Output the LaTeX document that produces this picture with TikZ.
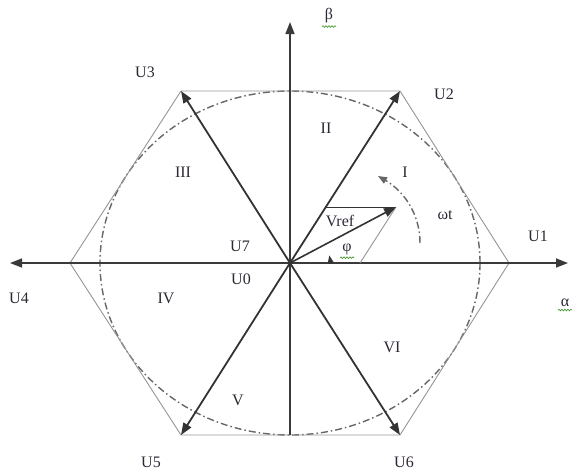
\documentclass[tikz,border=0pt]{standalone}
\usepackage{fontspec}
\setmainfont{Liberation Serif}
\usetikzlibrary{arrows.meta,decorations.pathmorphing}
\definecolor{axisgray}{HTML}{3A3A3A}
\definecolor{vecgray}{HTML}{333333}
\definecolor{hexgray}{HTML}{959595}
\definecolor{circgray}{HTML}{666666}
\definecolor{txt}{HTML}{2E2834}
\definecolor{sqgreen}{HTML}{4E9A3A}
\begin{document}
\begin{tikzpicture}[x=1pt,y=-1pt,
  axisline/.style={draw=axisgray,line width=1.6pt,-{Triangle[length=12pt,width=9pt]}},
  vec/.style={draw=vecgray,line width=1.8pt,-{Triangle[length=12pt,width=9pt]}},
  hexedge/.style={draw=hexgray,line width=0.9pt},
  thinline/.style={draw=vecgray,line width=0.9pt},
  circ/.style={draw=circgray,line width=1.4pt,dash pattern=on 7pt off 3pt on 1.5pt off 3pt},
  lbl/.style={font=\fontsize{16}{16}\selectfont,text=txt,inner sep=0pt},
  squig/.style={draw=sqgreen,line width=0.7pt,decorate,decoration={snake,amplitude=0.8pt,segment length=3pt}}]
\useasboundingbox (0,0) rectangle (572,472);
% key points
\coordinate (O) at (290,263);
\coordinate (Ap) at (568,263);
\coordinate (An) at (10,263);
\coordinate (Bt) at (290,22);
\coordinate (Bb) at (290,435);
\coordinate (V1) at (509,263);
\coordinate (V2) at (400,91);
\coordinate (V3) at (181,91);
\coordinate (V4) at (70,263);
\coordinate (V5) at (181,435);
\coordinate (V6) at (400,435);
\coordinate (R) at (396,207);
\coordinate (P) at (325.5,207);
\coordinate (Q) at (360,263);
\coordinate (W1) at (420,243);
\coordinate (W2) at (378,176);
\coordinate (Phi0) at (330,263);
% circle (ellipse) and hexagon
\draw[circ] (O) ellipse[x radius=190, y radius=172];
\draw[hexedge] (V1) -- (V2) -- (V3) -- (V4) -- (V5) -- (V6) -- cycle;
% axes
\draw[axisline] (O) -- (Ap);
\draw[axisline] (O) -- (An);
\draw[axisline] (Bb) -- (Bt);
% voltage vectors
\draw[vec] (O) -- (V2);
\draw[vec] (O) -- (V3);
\draw[vec] (O) -- (V5);
\draw[vec] (O) -- (V6);
% reference vector and construction
\draw[thinline] (P) -- (R);
\draw[thinline,draw=hexgray] (R) -- (Q);
\draw[vec,line width=1.6pt] (O) -- (R);
% omega t arrow
\draw[circ,-{Triangle[length=9pt,width=7pt]}] (W1) .. controls (420,212) and (402,190) .. (W2);
% phi angle marker
\draw[draw=vecgray,line width=1pt,-{Triangle[length=8pt,width=6pt]}] (Phi0) arc[start angle=0,end angle=-11,radius=40];
% labels
\node[lbl] (lU3) at (145,72) {U3};
\node[lbl] (lU2) at (444,94) {U2};
\node[lbl] (lU1) at (538,236) {U1};
\node[lbl] (lU4) at (19,298) {U4};
\node[lbl] (lU5) at (151,462) {U5};
\node[lbl] (lU6) at (404,462) {U6};
\node[lbl] (lU7) at (240,246) {U7};
\node[lbl] (lU0) at (241,279) {U0};
\node[lbl] (lal) at (565,303) {α};
\node[lbl] (lbe) at (329,16) {β};
\node[lbl] (lII) at (326,128) {II};
\node[lbl] (lIII) at (183,172) {III};
\node[lbl] (lI) at (405,172) {I};
\node[lbl] (lwt) at (445,215) {ωt};
\node[lbl] (lVref) at (340,221) {Vref};
\node[lbl] (lphi) at (347,249) {φ};
\node[lbl] (lIV) at (166,298) {IV};
\node[lbl] (lVI) at (392,347) {VI};
\node[lbl] (lV) at (238,400) {V};
% spell-check squiggles
\draw[squig] ([xshift=-7pt,yshift=-3pt]lbe.south) -- ([xshift=7pt,yshift=-3pt]lbe.south);
\draw[squig] ([xshift=-7pt,yshift=-3pt]lphi.south) -- ([xshift=7pt,yshift=-3pt]lphi.south);
\draw[squig] ([xshift=-7pt,yshift=-3pt]lal.south) -- ([xshift=8pt,yshift=-3pt]lal.south);
\end{tikzpicture}
\end{document}
